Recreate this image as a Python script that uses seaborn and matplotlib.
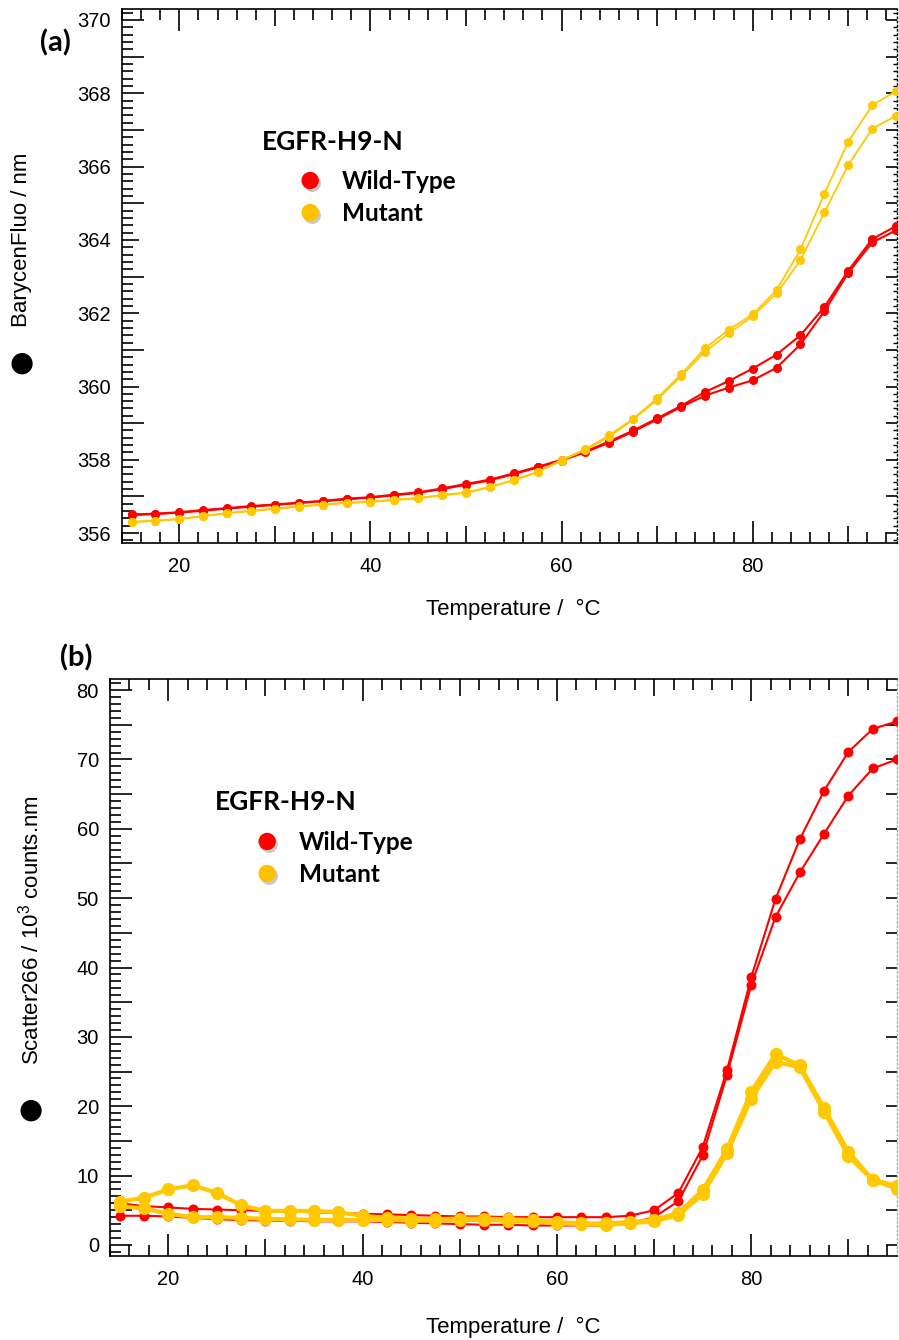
import numpy as np
import pandas as pd
import matplotlib
matplotlib.use("Agg")
import matplotlib.pyplot as plt
import matplotlib.patheffects as pe
from matplotlib.ticker import MultipleLocator, FuncFormatter
from matplotlib.lines import Line2D
import seaborn as sns

# ---------------- data ----------------
temps = [15, 17.5, 20, 22.5, 25, 27.5, 30, 32.5, 35, 37.5, 40, 42.5, 45, 47.5, 50,
         52.5, 55, 57.5, 60, 62.5, 65, 67.5, 70, 72.5, 75, 77.5, 80, 82.5, 85,
         87.5, 90, 92.5, 95]

bary_wt_1 = [356.51, 356.53, 356.57, 356.63, 356.68, 356.74, 356.78, 356.83, 356.88, 356.94,
             356.98, 357.05, 357.11, 357.22, 357.34, 357.46, 357.63, 357.81, 358.00, 358.23,
             358.50, 358.80, 359.13, 359.47, 359.85, 360.15, 360.49, 360.87, 361.40, 362.17,
             363.16, 364.02, 364.38]
bary_wt_2 = [356.49, 356.52, 356.56, 356.61, 356.67, 356.72, 356.77, 356.82, 356.87, 356.92,
             356.97, 357.03, 357.10, 357.20, 357.32, 357.44, 357.61, 357.79, 357.98, 358.21,
             358.47, 358.77, 359.10, 359.44, 359.75, 359.97, 360.17, 360.51, 361.15, 362.05,
             363.10, 363.93, 364.26]
bary_mut_1 = [356.31, 356.34, 356.39, 356.47, 356.55, 356.61, 356.67, 356.73, 356.78, 356.83,
              356.86, 356.91, 356.96, 357.04, 357.11, 357.26, 357.45, 357.67, 358.00, 358.29,
              358.67, 359.12, 359.68, 360.33, 361.04, 361.55, 361.97, 362.63, 363.74, 365.26,
              366.68, 367.67, 368.06]
bary_mut_2 = [356.30, 356.33, 356.38, 356.46, 356.54, 356.60, 356.66, 356.72, 356.77, 356.82,
              356.85, 356.90, 356.95, 357.03, 357.10, 357.25, 357.44, 357.66, 357.98, 358.27,
              358.63, 359.10, 359.64, 360.28, 360.95, 361.45, 361.92, 362.54, 363.45, 364.75,
              366.04, 367.03, 367.39]

scat_wt_1 = [6.0, 5.6, 5.4, 5.2, 5.1, 5.0, 4.9, 4.8, 4.7, 4.6, 4.5, 4.4, 4.3, 4.2, 4.1, 4.1,
             4.0, 4.0, 4.0, 4.0, 4.0, 4.2, 5.0, 7.5, 14.1, 25.2, 38.6, 49.9, 58.5, 65.5, 71.1,
             74.4, 75.5]
scat_wt_2 = [4.2, 4.2, 4.1, 3.9, 3.7, 3.6, 3.5, 3.5, 3.4, 3.4, 3.4, 3.3, 3.2, 3.1, 3.0, 2.9,
             2.9, 2.8, 2.8, 2.8, 2.8, 3.1, 4.0, 6.3, 12.9, 24.5, 37.5, 47.3, 53.7, 59.3, 64.8,
             68.7, 70.0]
scat_mut_1 = [6.2, 6.8, 8.0, 8.6, 7.5, 5.7, 4.9, 4.9, 4.9, 4.7, 4.2, 3.9, 3.8, 3.7, 3.8, 3.8,
              3.7, 3.6, 3.3, 3.1, 3.1, 3.3, 3.6, 4.6, 7.9, 13.8, 22.1, 27.5, 25.9, 19.7, 13.4,
              9.4, 8.5]
scat_mut_2 = [5.6, 5.25, 4.5, 4.0, 4.0, 3.9, 3.75, 3.7, 3.6, 3.6, 3.6, 3.6, 3.5, 3.5, 3.6, 3.6,
              3.5, 3.4, 3.1, 3.0, 2.9, 3.1, 3.4, 4.3, 7.3, 13.2, 21.1, 26.4, 25.6, 19.2, 12.8,
              9.35, 8.1]

protein = "EGFR-H9-N"
groups = ["Wild-Type", "Mutant"]
panel_labels = ["(a)", "(b)"]
x_label = "Temperature /  \u00b0C"
y_labels = ["BarycenFluo / nm", "Scatter266 / 10$^3$ counts.nm"]

RED = "#FF0000"
YEL = "#FFC800"
LEG_YEL = "#FFC000"

# ---------------- style ----------------
sns.set_style("white")
plt.rcParams["font.family"] = ["Liberation Sans", "DejaVu Sans"]
plt.rcParams["mathtext.default"] = "regular"
for k in ["text.color", "axes.labelcolor", "xtick.color", "ytick.color", "axes.edgecolor"]:
    plt.rcParams[k] = "black"

W, H = 899, 1340
fig = plt.figure(figsize=(W / 100, H / 100), dpi=100)


def fx(px):
    return px / W


def fy(py):
    return 1 - py / H


ax_a = fig.add_axes([fx(122), fy(543), (897 - 122) / W, (543 - 9) / H])
ax_b = fig.add_axes([fx(110), fy(1256), (897 - 110) / W, (1256 - 679) / H])


def draw(ax, series, colors, lw, ms):
    for vals, c, w, m in zip(series, colors, lw, ms):
        df = pd.DataFrame({"T": temps, "v": vals})
        sns.lineplot(data=df, x="T", y="v", ax=ax, color=c, linewidth=w, marker="o",
                     markersize=m, markeredgewidth=0, legend=False, clip_on=True)


draw(ax_a, [bary_wt_1, bary_wt_2, bary_mut_1, bary_mut_2], [RED, RED, YEL, YEL],
     [1.5, 1.5, 1.3, 1.3], [6.5, 6.5, 6.5, 6.5])
draw(ax_b, [scat_wt_1, scat_wt_2, scat_mut_1, scat_mut_2], [RED, RED, YEL, YEL],
     [1.5, 1.5, 3.0, 3.0], [7.2, 7.2, 9.5, 9.5])

ax_a.set_xlim(14.0, 95.1)
ax_a.set_ylim(355.73, 370.3)
ax_b.set_xlim(14.0, 95.0)
ax_b.set_ylim(-1.6, 81.6)


def style(ax, ymaj, ymin_step, ylab_every, right_minor, right_color):
    ax.set_xlabel("")
    ax.set_ylabel("")
    for s in ["left", "bottom", "top"]:
        ax.spines[s].set_visible(True)
        ax.spines[s].set_color("black")
        ax.spines[s].set_linewidth(1.2)
    ax.spines["right"].set_visible(False)

    ax.xaxis.set_major_locator(MultipleLocator(10))
    ax.xaxis.set_minor_locator(MultipleLocator(2))
    ax.xaxis.set_major_formatter(FuncFormatter(
        lambda v, p: f"{v:.0f}" if abs(v / 20 - round(v / 20)) < 1e-6 else ""))
    ax.yaxis.set_major_locator(MultipleLocator(ymaj))
    ax.yaxis.set_minor_locator(MultipleLocator(ymin_step))
    ax.yaxis.set_major_formatter(FuncFormatter(
        lambda v, p: f"{v:.0f}" if abs(v / ylab_every - round(v / ylab_every)) < 1e-6 else ""))

    ax.tick_params(axis="x", which="major", direction="in", length=12, width=1.2,
                   top=True, bottom=True, labelsize=14.5, pad=10, color="black",
                   labelcolor="black")
    ax.tick_params(axis="x", which="minor", direction="in", length=8, width=1.2,
                   top=True, bottom=True, color="black")
    ax.tick_params(axis="y", which="major", direction="in", length=12, width=1.2,
                   left=True, right=False, labelsize=14.5, pad=8, color="black",
                   labelcolor="black")
    ax.tick_params(axis="y", which="minor", direction="in", length=8, width=1.2,
                   left=True, right=False, color="black")

    for t in ax.xaxis.get_major_ticks():
        loc = t.get_loc()
        if abs(loc / 20 - round(loc / 20)) < 1e-6:
            t.tick1line.set_markersize(16)
            t.tick2line.set_markersize(16)
    for t in ax.yaxis.get_major_ticks():
        loc = t.get_loc()
        if abs(loc / ylab_every - round(loc / ylab_every)) < 1e-6:
            t.tick1line.set_markersize(16)

    sec = ax.secondary_yaxis("right")
    sec.spines["right"].set_linestyle((0, (1, 2)))
    sec.spines["right"].set_color(right_color)
    sec.spines["right"].set_linewidth(1.0)
    sec.yaxis.set_major_locator(MultipleLocator(ymaj))
    if right_minor:
        sec.yaxis.set_minor_locator(MultipleLocator(ymin_step))
    else:
        sec.yaxis.set_minor_locator(MultipleLocator(1000))
    sec.tick_params(axis="y", which="major", direction="in", length=5, width=1.2,
                    labelright=False, color="black")
    sec.tick_params(axis="y", which="minor", direction="in", length=3, width=1.0,
                    labelright=False, color="black")
    for t in sec.yaxis.get_major_ticks():
        loc = t.get_loc()
        if abs(loc / ylab_every - round(loc / ylab_every)) < 1e-6:
            t.tick2line.set_markersize(8)
    return sec


style(ax_a, 1, 0.2, 2, True, "black")
style(ax_b, 5, 1, 10, False, "#AAAAAA")

# ---------------- texts ----------------
fig.text(fx(55), fy(43), panel_labels[0], ha="center", va="center", fontsize=21,
         fontweight="bold", family=["Lato", "DejaVu Sans"], color="black")
fig.text(fx(76), fy(658), panel_labels[1], ha="center", va="center", fontsize=21,
         fontweight="bold", family=["Lato", "DejaVu Sans"], color="black")

fig.text(fx(513), fy(609), x_label, ha="center", va="center", fontsize=16, color="black")
fig.text(fx(513), fy(1327), x_label, ha="center", va="center", fontsize=16, color="black")

fig.text(fx(22), fy(240), y_labels[0], rotation=90, ha="center", va="center", fontsize=16,
         color="black")
fig.text(fx(22), fy(363), "\u25cf", ha="center", va="center", fontsize=20,
         family=["DejaVu Sans"], color="black")
fig.text(fx(31), fy(930), y_labels[1], rotation=90, ha="center", va="center", fontsize=16,
         color="black")
fig.text(fx(31), fy(1110), "\u25cf", ha="center", va="center", fontsize=20,
         family=["DejaVu Sans"], color="black")

# ---------------- legends ----------------
shadow = [pe.SimplePatchShadow(offset=(1.5, -2), shadow_rgbFace="#888888", alpha=0.45),
          pe.Normal()]


def add_legend(ax, title_xy, leg_xy):
    fig.text(fx(title_xy[0]), fy(title_xy[1]), protein, ha="left", va="center",
             fontsize=19, fontweight="bold", family=["Lato", "DejaVu Sans"], color="black")
    handles = [Line2D([], [], linestyle="none", marker="o", markersize=12.5,
                      markerfacecolor=c, markeredgewidth=0, path_effects=shadow)
               for c in [RED, LEG_YEL]]
    leg = ax.legend(handles, groups, loc="upper left",
                    bbox_to_anchor=(fx(leg_xy[0]), fy(leg_xy[1])),
                    bbox_transform=fig.transFigure, frameon=False, borderpad=0,
                    borderaxespad=0, handlelength=1.0, handletextpad=0.81,
                    labelspacing=0.37,
                    prop={"family": ["Lato", "DejaVu Sans"], "weight": "bold", "size": 17.5})
    for t in leg.get_texts():
        t.set_color("black")
    return leg


add_legend(ax_a, (262, 142), (298, 170))
add_legend(ax_b, (215, 802), (255, 831))

fig.savefig("out.png", dpi=100)
